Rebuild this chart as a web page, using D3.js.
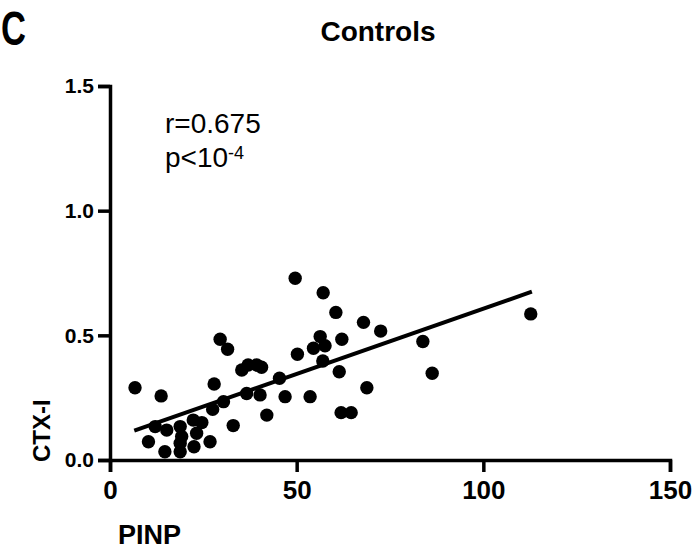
<!DOCTYPE html>
<html>
<head>
<meta charset="utf-8">
<script src="https://cdn.jsdelivr.net/npm/d3@7"></script>
<style>
  body { margin: 0; background: #fff; }
  svg { display: block; }
</style>
</head>
<body>
<div id="chart"></div>
<script>
// PINP (x) vs CTX-I (y), control group
const pinp = [6.7, 13.7, 29.5, 31.5, 35.3, 37.0, 39.3, 40.6, 27.9, 30.4,
              27.5, 36.6, 40.2, 45.4, 46.9, 42.0, 33.0, 10.3, 14.7, 12.1,
              15.2, 18.8, 19.2, 18.8, 18.8, 22.3, 24.6, 23.2, 22.5, 26.8,
              49.6, 57.1, 60.5, 67.9, 72.5, 56.3, 57.6, 54.5, 62.1, 50.2,
              57.0, 61.4, 83.8, 86.3, 112.7, 53.6, 68.8, 61.9, 64.6];
const ctx  = [0.29, 0.257, 0.484, 0.444, 0.361, 0.381, 0.381, 0.372, 0.305, 0.234,
              0.203, 0.267, 0.261, 0.328, 0.254, 0.18, 0.138, 0.073, 0.033, 0.134,
              0.12, 0.134, 0.094, 0.067, 0.033, 0.16, 0.15, 0.107, 0.053, 0.073,
              0.729, 0.671, 0.592, 0.552, 0.517, 0.495, 0.458, 0.448, 0.484, 0.424,
              0.397, 0.354, 0.475, 0.348, 0.586, 0.254, 0.29, 0.19, 0.19];

// regression line as drawn
const fitSlope = 0.00523;
const fitIntercept = 0.084;
const fitRange = [6.5, 113];

const xTicks = [0, 50, 100, 150];
const yTicks = [0, 0.5, 1.0, 1.5];

const width = 695, height = 551;
const margin = {top: 86, right: 25, bottom: 91, left: 110};

const svg = d3.select("#chart").append("svg")
    .attr("width", width)
    .attr("height", height)
    .attr("font-family", "'Liberation Sans', Arial, sans-serif");

const x = d3.scaleLinear().domain([0, 150]).range([margin.left, width - margin.right]);
const y = d3.scaleLinear().domain([0, 1.5]).range([height - margin.bottom, margin.top]);

// axes, prism style: thick black lines, outer ticks
const xAxis = svg.append("g")
    .attr("transform", `translate(0,${y(0)})`)
    .call(d3.axisBottom(x).tickValues(xTicks).tickFormat(d3.format("d"))
        .tickSize(12).tickPadding(9));

const yAxis = svg.append("g")
    .attr("transform", `translate(${x(0)},0)`)
    .call(d3.axisLeft(y).tickValues(yTicks).tickFormat(d3.format(".1f"))
        .tickSize(12).tickPadding(4));

[xAxis, yAxis].forEach(g => {
  g.selectAll("path, line").attr("stroke", "#000").attr("stroke-width", 3.5);
  g.selectAll("text").attr("fill", "#000").attr("font-weight", "bold");
});
xAxis.selectAll("text").attr("font-size", 26);
yAxis.selectAll("text").attr("font-size", 21);

// fitted line
svg.append("line")
    .attr("x1", x(fitRange[0]))
    .attr("y1", y(fitIntercept + fitSlope * fitRange[0]))
    .attr("x2", x(fitRange[1]))
    .attr("y2", y(fitIntercept + fitSlope * fitRange[1]))
    .attr("stroke", "#000")
    .attr("stroke-width", 4);

// dots
svg.append("g")
  .selectAll("circle")
  .data(d3.zip(pinp, ctx))
  .join("circle")
    .attr("cx", d => x(d[0]))
    .attr("cy", d => y(d[1]))
    .attr("r", 6.7)
    .attr("fill", "#000");

// stats text
svg.append("text")
    .attr("x", 165)
    .attr("y", 133)
    .attr("font-size", 28)
    .attr("fill", "#000")
    .text("r=0.675");
const pLine = svg.append("text")
    .attr("x", 165)
    .attr("y", 167)
    .attr("font-size", 28)
    .attr("fill", "#000");
pLine.append("tspan").text("p<10");
pLine.append("tspan").attr("font-size", 18).attr("dy", -8).text("-4");

// titles
svg.append("text")
    .attr("x", 378)
    .attr("y", 41)
    .attr("text-anchor", "middle")
    .attr("font-size", 28)
    .attr("font-weight", "bold")
    .text("Controls");

// panel letter, narrow
svg.append("text")
    .attr("transform", "translate(1,45) scale(0.72,1)")
    .attr("font-size", 48)
    .attr("font-weight", "bold")
    .text("C");

svg.append("text")
    .attr("x", 118)
    .attr("y", 544)
    .attr("font-size", 27)
    .attr("font-weight", "bold")
    .text("PINP");

svg.append("text")
    .attr("transform", "translate(50,462) rotate(-90)")
    .attr("font-size", 24)
    .attr("font-weight", "bold")
    .text("CTX-I");
</script>
</body>
</html>
